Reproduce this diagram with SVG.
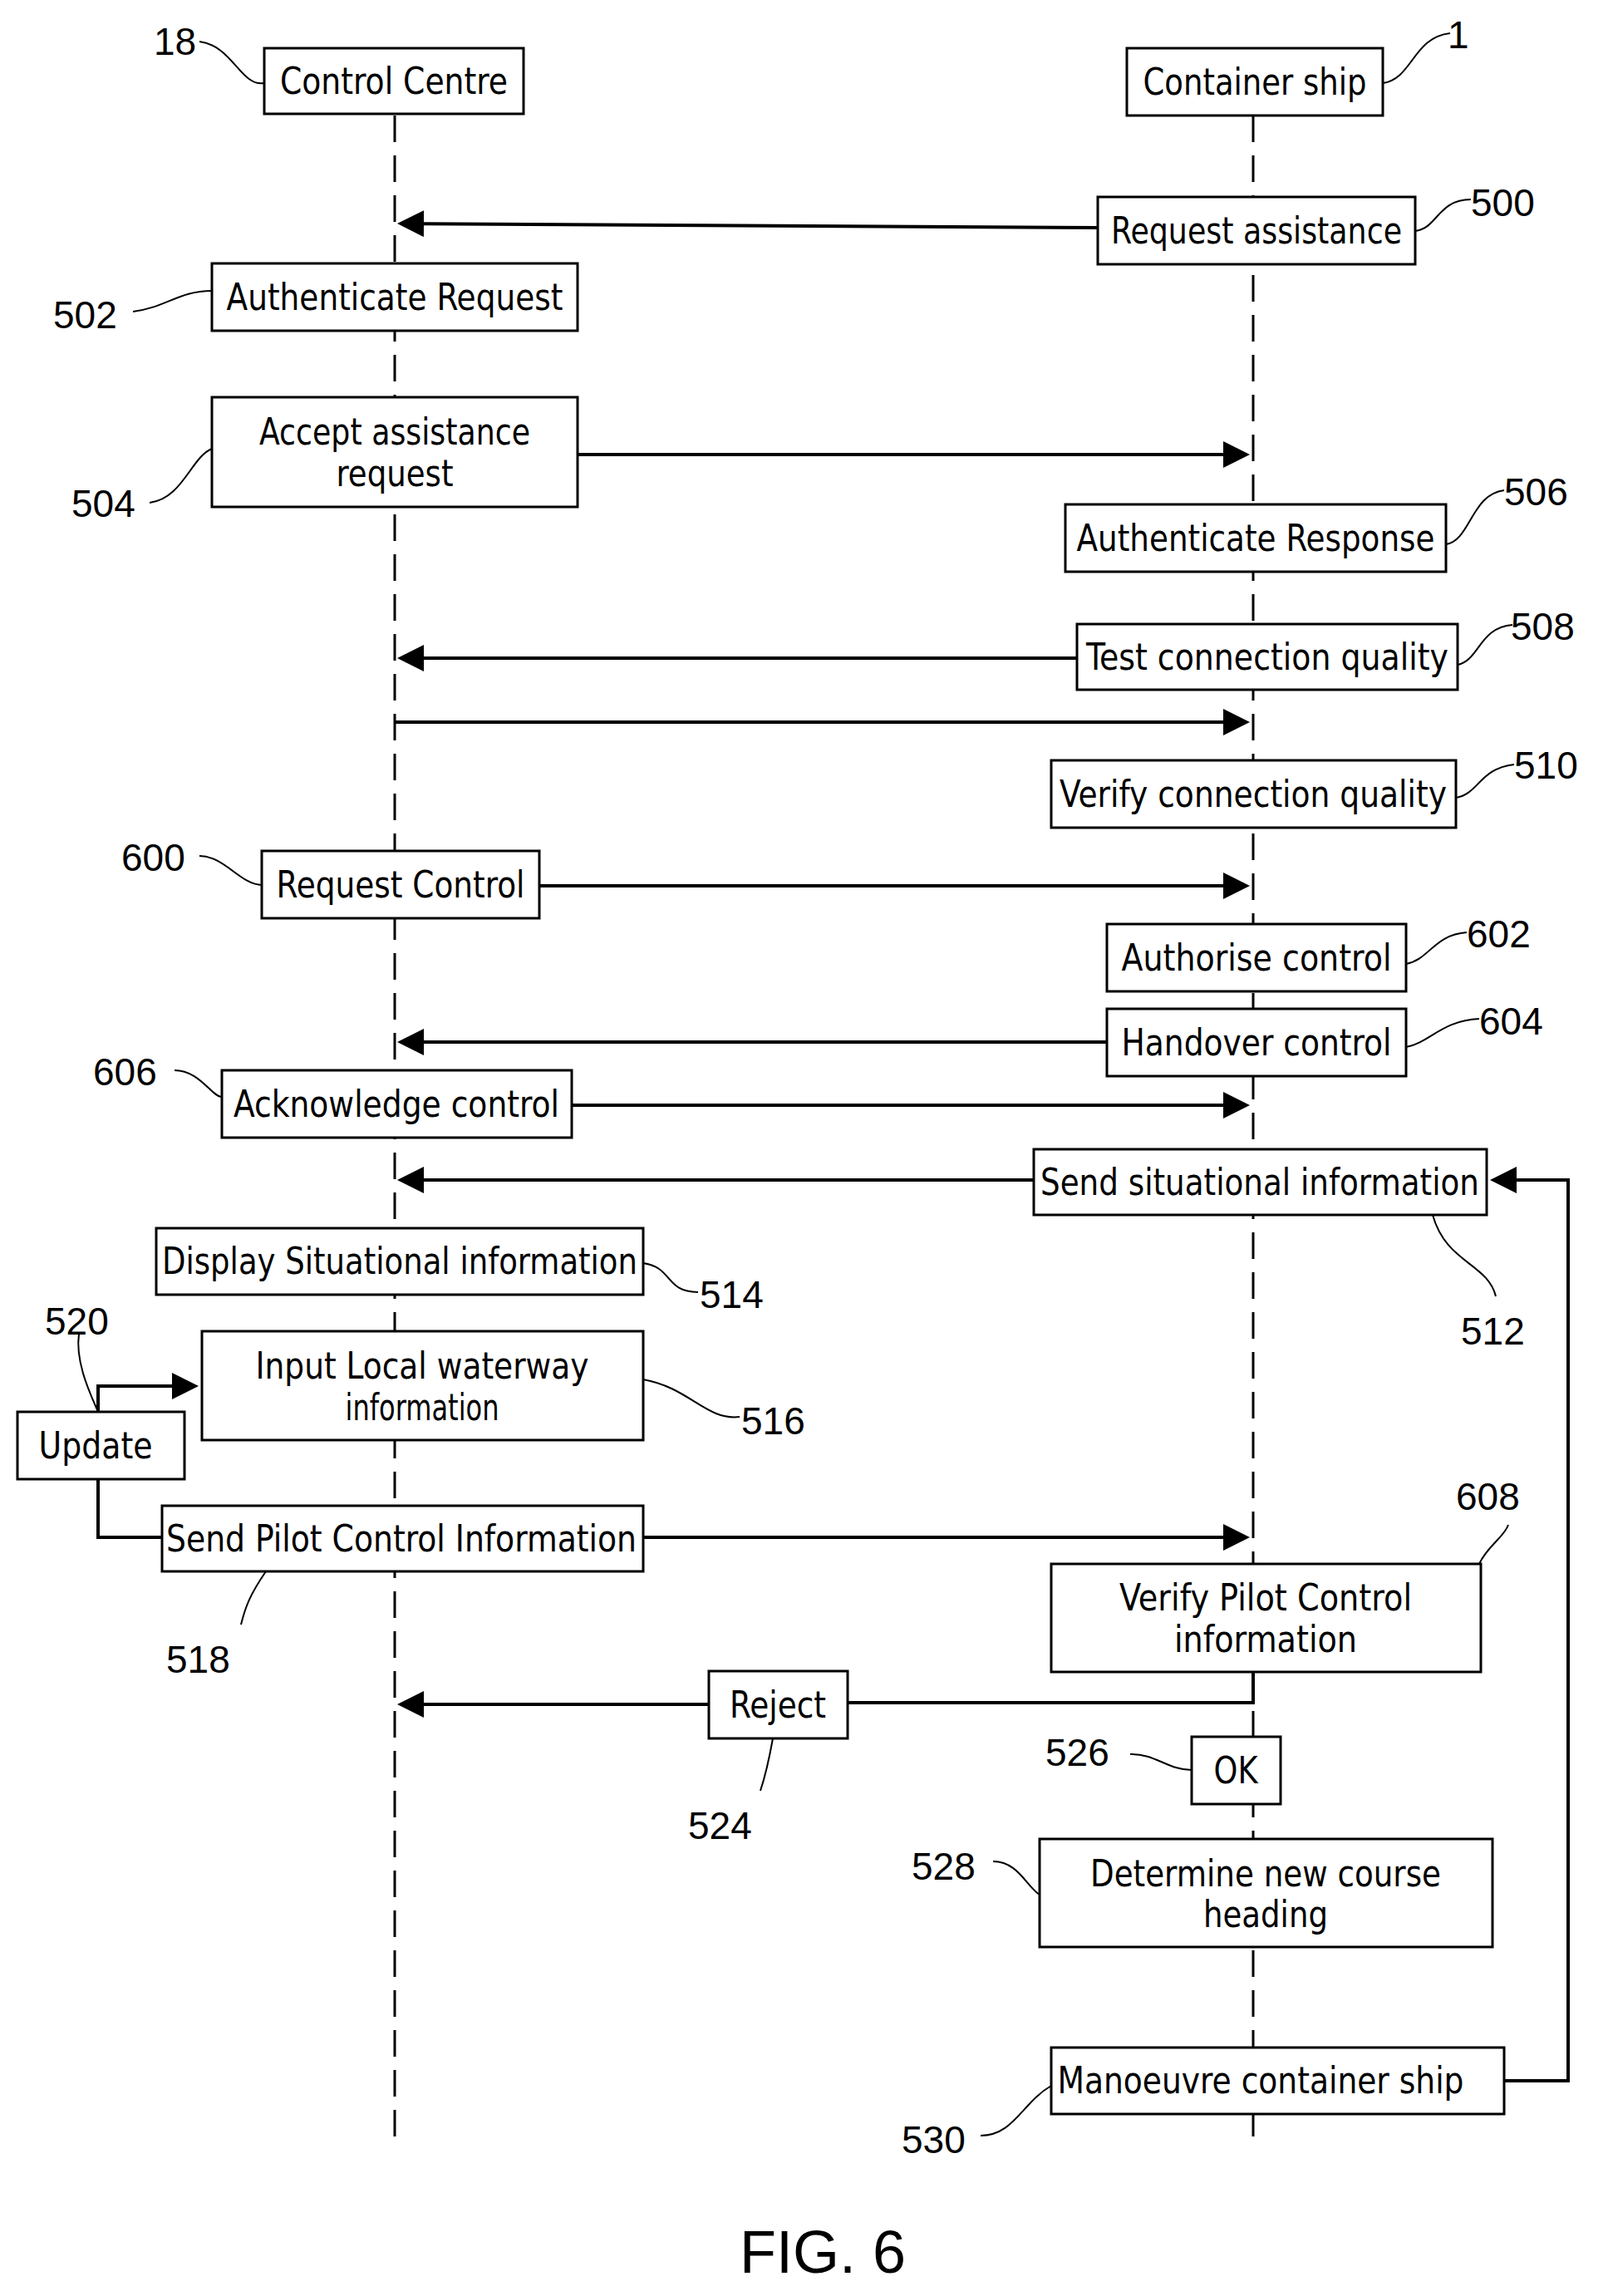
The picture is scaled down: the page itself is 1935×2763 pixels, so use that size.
<svg xmlns="http://www.w3.org/2000/svg" width="1935" height="2763" viewBox="0 0 1935 2763">
<style>
.b{fill:#fff;stroke:#000;stroke-width:3}
.t{font-family:"DejaVu Sans Condensed","DejaVu Sans",sans-serif;font-stretch:condensed;font-size:44px;text-anchor:middle;fill:#000}
.n{font-family:"Liberation Sans",sans-serif;font-size:46px;fill:#000}
.ll{stroke:#000;stroke-width:3;stroke-dasharray:32 16;fill:none}
.c{stroke:#000;stroke-width:4;fill:none}
.ld{stroke:#000;stroke-width:2;fill:none}
</style>
<defs><marker id="a" markerWidth="8" markerHeight="8" refX="7" refY="4" orient="auto" markerUnits="strokeWidth"><path d="M0,0L8,4L0,8z" fill="#000"/></marker></defs>
<rect width="1935" height="2763" fill="#fff"/>
<g id="lifelines">
<line class="ll" x1="475" y1="139" x2="475" y2="2586"/>
<line class="ll" x1="1508" y1="139" x2="1508" y2="2586"/>
</g>
<g id="connectors">
<line class="c" x1="1321" y1="274" x2="482" y2="269" marker-end="url(#a)"/>
<line class="c" x1="695" y1="547" x2="1500" y2="547" marker-end="url(#a)"/>
<line class="c" x1="1296" y1="792" x2="482" y2="792" marker-end="url(#a)"/>
<line class="c" x1="475" y1="869" x2="1500" y2="869" marker-end="url(#a)"/>
<line class="c" x1="649" y1="1066" x2="1500" y2="1066" marker-end="url(#a)"/>
<line class="c" x1="1332" y1="1254" x2="482" y2="1254" marker-end="url(#a)"/>
<line class="c" x1="688" y1="1330" x2="1500" y2="1330" marker-end="url(#a)"/>
<line class="c" x1="1244" y1="1420" x2="482" y2="1420" marker-end="url(#a)"/>
<polyline class="c" points="118,1699 118,1668 235,1668" marker-end="url(#a)"/>
<polyline class="c" points="118,1780 118,1850 195,1850"/>
<line class="c" x1="774" y1="1850" x2="1500" y2="1850" marker-end="url(#a)"/>
<polyline class="c" points="1508,2012 1508,2049 1020,2049"/>
<line class="c" x1="853" y1="2051" x2="482" y2="2051" marker-end="url(#a)"/>
<polyline class="c" points="1810,2504 1887,2504 1887,1420 1797,1420" marker-end="url(#a)"/>
</g>
<g id="leaders">
<path class="ld" d="M240,50 C280,55 290,105 318,100"/>
<path class="ld" d="M1664,100 C1700,95 1700,45 1745,40"/>
<path class="ld" d="M1703,278 C1730,275 1730,240 1770,240"/>
<path class="ld" d="M160,375 C200,370 215,350 255,350"/>
<path class="ld" d="M180,605 C220,600 230,550 255,540"/>
<path class="ld" d="M1740,655 C1770,650 1770,595 1810,590"/>
<path class="ld" d="M1754,800 C1780,795 1780,755 1820,752"/>
<path class="ld" d="M1752,960 C1780,955 1780,925 1822,920"/>
<path class="ld" d="M240,1030 C270,1030 290,1065 315,1065"/>
<path class="ld" d="M1692,1160 C1720,1155 1725,1125 1765,1122"/>
<path class="ld" d="M1692,1260 C1720,1255 1735,1228 1780,1226"/>
<path class="ld" d="M210,1288 C240,1288 255,1320 267,1320"/>
<path class="ld" d="M1724,1462 C1740,1520 1790,1520 1800,1560"/>
<path class="ld" d="M774,1520 C810,1525 800,1555 840,1555"/>
<path class="ld" d="M774,1660 C830,1670 850,1710 890,1705"/>
<path class="ld" d="M95,1605 C90,1640 110,1680 118,1699"/>
<path class="ld" d="M320,1891 C300,1920 295,1935 290,1955"/>
<path class="ld" d="M1780,1882 C1790,1860 1810,1850 1815,1835"/>
<path class="ld" d="M930,2092 C925,2120 920,2140 915,2155"/>
<path class="ld" d="M1360,2111 C1390,2110 1405,2130 1434,2130"/>
<path class="ld" d="M1195,2240 C1225,2240 1235,2270 1251,2280"/>
<path class="ld" d="M1180,2570 C1220,2570 1230,2530 1265,2510"/>
</g>
<g id="n18"><rect class="b" x="318" y="58" width="312" height="79"/><text class="t" x="474" y="113" textLength="274" lengthAdjust="spacingAndGlyphs">Control Centre</text></g>
<g id="n1"><rect class="b" x="1356" y="58" width="308" height="81"/><text class="t" x="1510" y="114" textLength="269" lengthAdjust="spacingAndGlyphs">Container ship</text></g>
<g id="n500"><rect class="b" x="1321" y="237" width="382" height="81"/><text class="t" x="1512" y="293" textLength="350" lengthAdjust="spacingAndGlyphs">Request assistance</text></g>
<g id="n502"><rect class="b" x="255" y="317" width="440" height="81"/><text class="t" x="475" y="373" textLength="405" lengthAdjust="spacingAndGlyphs">Authenticate Request</text></g>
<g id="n504"><rect class="b" x="255" y="478" width="440" height="132"/><text class="t" x="475" y="535" textLength="326" lengthAdjust="spacingAndGlyphs">Accept assistance</text><text class="t" x="475" y="585" textLength="141" lengthAdjust="spacingAndGlyphs">request</text></g>
<g id="n506"><rect class="b" x="1282" y="607" width="458" height="81"/><text class="t" x="1511" y="663" textLength="431" lengthAdjust="spacingAndGlyphs">Authenticate Response</text></g>
<g id="n508"><rect class="b" x="1296" y="751" width="458" height="79"/><text class="t" x="1525" y="806" textLength="436" lengthAdjust="spacingAndGlyphs">Test connection quality</text></g>
<g id="n510"><rect class="b" x="1265" y="915" width="487" height="81"/><text class="t" x="1508" y="971" textLength="466" lengthAdjust="spacingAndGlyphs">Verify connection quality</text></g>
<g id="n600"><rect class="b" x="315" y="1024" width="334" height="81"/><text class="t" x="482" y="1080" textLength="299" lengthAdjust="spacingAndGlyphs">Request Control</text></g>
<g id="n602"><rect class="b" x="1332" y="1112" width="360" height="81"/><text class="t" x="1512" y="1168" textLength="325" lengthAdjust="spacingAndGlyphs">Authorise control</text></g>
<g id="n604"><rect class="b" x="1332" y="1214" width="360" height="81"/><text class="t" x="1512" y="1270" textLength="325" lengthAdjust="spacingAndGlyphs">Handover control</text></g>
<g id="n606"><rect class="b" x="267" y="1288" width="421" height="81"/><text class="t" x="477" y="1344" textLength="392" lengthAdjust="spacingAndGlyphs">Acknowledge control</text></g>
<g id="n512"><rect class="b" x="1244" y="1383" width="545" height="79"/><text class="t" x="1516" y="1438" textLength="528" lengthAdjust="spacingAndGlyphs">Send situational information</text></g>
<g id="n514"><rect class="b" x="188" y="1478" width="586" height="80"/><text class="t" x="481" y="1533" textLength="572" lengthAdjust="spacingAndGlyphs">Display Situational information</text></g>
<g id="n516"><rect class="b" x="243" y="1602" width="531" height="131"/><text class="t" x="508" y="1659" textLength="401" lengthAdjust="spacingAndGlyphs">Input Local waterway</text><text class="t" x="508" y="1709" textLength="185" lengthAdjust="spacingAndGlyphs">information</text></g>
<g id="n520"><rect class="b" x="21" y="1699" width="201" height="81"/><text class="t" x="115" y="1755" textLength="137" lengthAdjust="spacingAndGlyphs">Update</text></g>
<g id="n518"><rect class="b" x="195" y="1812" width="579" height="79"/><text class="t" x="483" y="1867" textLength="566" lengthAdjust="spacingAndGlyphs">Send Pilot Control Information</text></g>
<g id="n608"><rect class="b" x="1265" y="1882" width="517" height="130"/><text class="t" x="1523" y="1938" textLength="352" lengthAdjust="spacingAndGlyphs">Verify Pilot Control</text><text class="t" x="1523" y="1988" textLength="220" lengthAdjust="spacingAndGlyphs">information</text></g>
<g id="n524"><rect class="b" x="853" y="2011" width="167" height="81"/><text class="t" x="936" y="2067" textLength="116" lengthAdjust="spacingAndGlyphs">Reject</text></g>
<g id="n526"><rect class="b" x="1434" y="2090" width="107" height="81"/><text class="t" x="1487" y="2146" textLength="53" lengthAdjust="spacingAndGlyphs">OK</text></g>
<g id="n528"><rect class="b" x="1251" y="2213" width="545" height="130"/><text class="t" x="1523" y="2270" textLength="422" lengthAdjust="spacingAndGlyphs">Determine new course</text><text class="t" x="1523" y="2319" textLength="150" lengthAdjust="spacingAndGlyphs">heading</text></g>
<g id="n530"><rect class="b" x="1265" y="2464" width="545" height="80"/><text class="t" x="1517" y="2519" textLength="489" lengthAdjust="spacingAndGlyphs">Manoeuvre container ship</text></g>
<g id="labels">
<text class="n" x="185" y="66">18</text>
<text class="n" x="1742" y="58">1</text>
<text class="n" x="1770" y="260">500</text>
<text class="n" x="64" y="395">502</text>
<text class="n" x="86" y="622">504</text>
<text class="n" x="1810" y="608">506</text>
<text class="n" x="1818" y="770">508</text>
<text class="n" x="1822" y="937">510</text>
<text class="n" x="146" y="1048">600</text>
<text class="n" x="1765" y="1140">602</text>
<text class="n" x="1780" y="1245">604</text>
<text class="n" x="112" y="1306">606</text>
<text class="n" x="1758" y="1618">512</text>
<text class="n" x="842" y="1574">514</text>
<text class="n" x="892" y="1726">516</text>
<text class="n" x="54" y="1606">520</text>
<text class="n" x="200" y="2013">518</text>
<text class="n" x="1752" y="1817">608</text>
<text class="n" x="828" y="2213">524</text>
<text class="n" x="1258" y="2125">526</text>
<text class="n" x="1097" y="2262">528</text>
<text class="n" x="1085" y="2591">530</text>
<text x="990" y="2735" font-family="Liberation Sans, sans-serif" font-size="72" text-anchor="middle">FIG. 6</text>
</g>
</svg>
